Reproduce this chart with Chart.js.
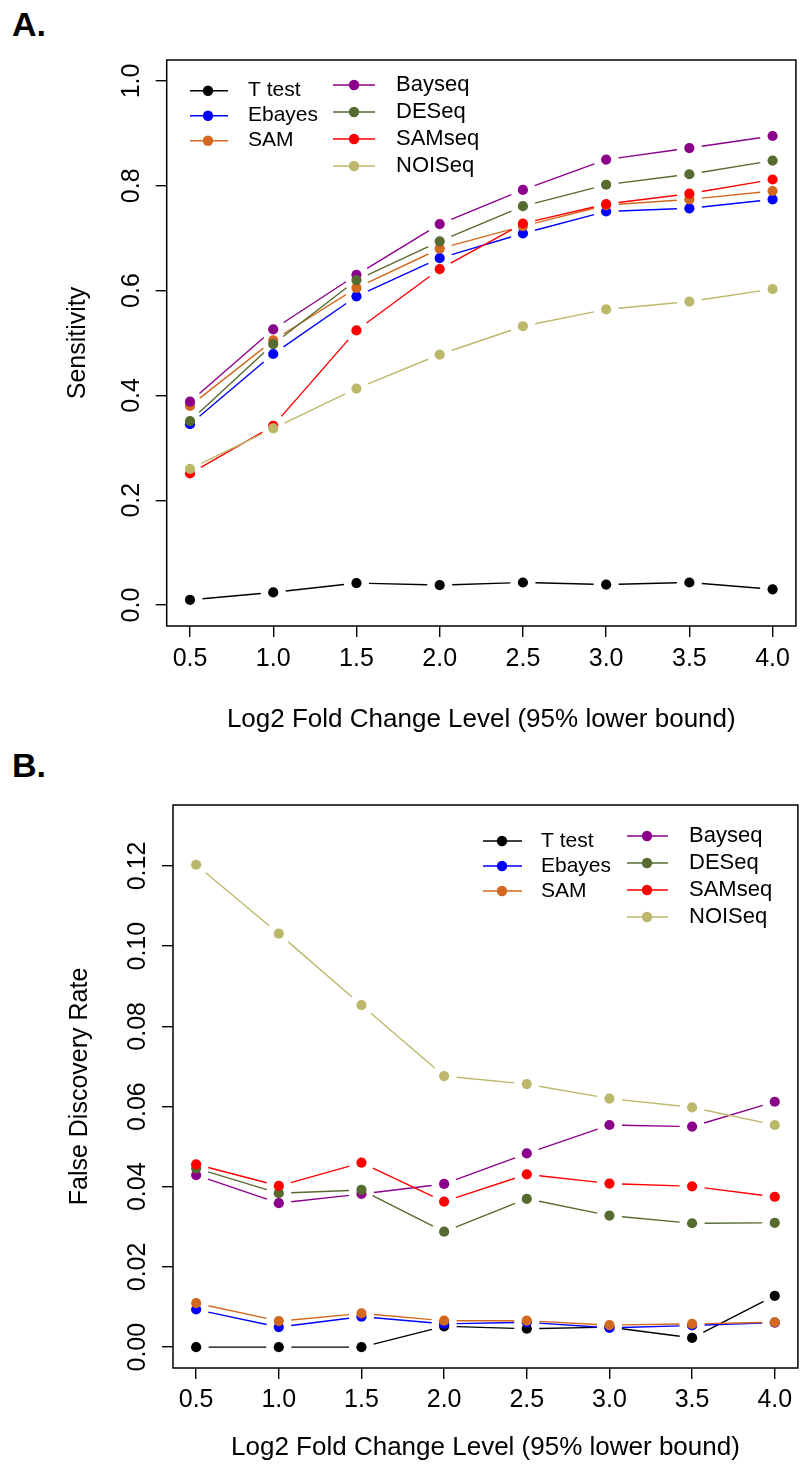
<!DOCTYPE html>
<html>
<head>
<meta charset="utf-8">
<script src="https://cdn.jsdelivr.net/npm/chart.js@4.4.0/dist/chart.umd.min.js"></script>
<style>
  html, body { margin: 0; padding: 0; background: #fff; width: 800px; height: 1465px; overflow: hidden; }
  .tag { position: absolute; left: 12px; font: bold 34px "Liberation Sans", Arial, sans-serif; line-height: 1; color: #000; }
  canvas { position: absolute; left: 0; }
</style>
</head>
<body>
<div class="tag" style="top:7px">A.</div>
<div class="tag" style="top:748px">B.</div>
<canvas id="chartA" width="801" height="740" style="top:0"></canvas>
<canvas id="chartB" width="803" height="725" style="top:740px"></canvas>

<script>
// --- data ---
const foldLevels = [0.5, 1.0, 1.5, 2.0, 2.5, 3.0, 3.5, 4.0];
const methods = ["T test", "Ebayes", "SAM", "Bayseq", "DESeq", "SAMseq", "NOISeq"];
const methodColors = ["#000000", "#0000FF", "#D2691E", "#8B008B", "#556B2F", "#FF0000", "#BDB76B"];

// panel A: sensitivity
const sensTtest  = [0.010, 0.024, 0.042, 0.038, 0.043, 0.039, 0.043, 0.030];
const sensEbayes = [0.345, 0.479, 0.589, 0.662, 0.709, 0.751, 0.757, 0.774];
const sensSAM    = [0.380, 0.505, 0.605, 0.680, 0.723, 0.763, 0.774, 0.790];
const sensBayseq = [0.388, 0.526, 0.630, 0.727, 0.792, 0.850, 0.872, 0.895];
const sensDESeq  = [0.351, 0.498, 0.620, 0.694, 0.761, 0.802, 0.822, 0.848];
const sensSAMseq = [0.251, 0.342, 0.524, 0.641, 0.728, 0.765, 0.785, 0.812];
const sensNOISeq = [0.260, 0.337, 0.413, 0.478, 0.532, 0.564, 0.579, 0.603];

// panel B: false discovery rate
const fdrTtest  = [0.0000, 0.0000, 0.0000, 0.0052, 0.0046, 0.0050, 0.0023, 0.0128];
const fdrEbayes = [0.0094, 0.0050, 0.0076, 0.0058, 0.0062, 0.0048, 0.0054, 0.0061];
const fdrSAM    = [0.0110, 0.0065, 0.0084, 0.0066, 0.0066, 0.0055, 0.0058, 0.0062];
const fdrBayseq = [0.0429, 0.0359, 0.0382, 0.0407, 0.0483, 0.0554, 0.0550, 0.0612];
const fdrDESeq  = [0.0446, 0.0384, 0.0392, 0.0288, 0.0370, 0.0328, 0.0309, 0.0310];
const fdrSAMseq = [0.0456, 0.0402, 0.0460, 0.0363, 0.0431, 0.0408, 0.0401, 0.0375];
const fdrNOISeq = [0.1203, 0.1031, 0.0853, 0.0676, 0.0656, 0.0620, 0.0598, 0.0554];

const xTickValues = [0.5, 1.0, 1.5, 2.0, 2.5, 3.0, 3.5, 4.0];
const sensTickValues = [0.0, 0.2, 0.4, 0.6, 0.8, 1.0];
const fdrTickValues = [0.00, 0.02, 0.04, 0.06, 0.08, 0.10, 0.12];

const FONT = '"Liberation Sans", Arial, sans-serif';
const GAP = 12.5;

// R style "type = b": segments stop short of each point
const gappedLines = {
  id: "gappedLines",
  beforeDatasetDraw(chart, args) {
    const ctx = chart.ctx;
    const pts = args.meta.data;
    const ds = chart.data.datasets[args.index];
    ctx.save();
    ctx.strokeStyle = ds.lineColor;
    ctx.lineWidth = 1.4;
    for (let i = 0; i < pts.length - 1; i++) {
      const a = pts[i], b = pts[i + 1];
      const dx = b.x - a.x, dy = b.y - a.y;
      const len = Math.hypot(dx, dy);
      if (len <= 2 * GAP) continue;
      const ux = dx / len, uy = dy / len;
      ctx.beginPath();
      ctx.moveTo(a.x + ux * GAP, a.y + uy * GAP);
      ctx.lineTo(b.x - ux * GAP, b.y - uy * GAP);
      ctx.stroke();
    }
    ctx.restore();
  }
};

// box, rotated y tick labels, legend
const rDecor = {
  id: "rDecor",
  afterDraw(chart, args, opts) {
    const ctx = chart.ctx;
    const area = chart.chartArea;
    ctx.save();
    ctx.strokeStyle = "#000";
    ctx.lineWidth = 1.5;
    ctx.strokeRect(area.left, area.top, area.right - area.left, area.bottom - area.top);

    const ys = chart.scales.y;
    ctx.fillStyle = "#000";
    ctx.font = "25px " + FONT;
    ctx.textAlign = "center";
    ctx.textBaseline = "middle";
    ys.ticks.forEach(t => {
      const py = ys.getPixelForValue(t.value);
      ctx.save();
      ctx.translate(area.left - 35, py);
      ctx.rotate(-Math.PI / 2);
      ctx.fillText(t.value.toFixed(opts.decimals), 0, 0);
      ctx.restore();
    });

    opts.legend.forEach(col => {
      col.items.forEach((idx, r) => {
        const y = col.rows[r];
        ctx.strokeStyle = methodColors[idx];
        ctx.lineWidth = 1.4;
        ctx.beginPath();
        ctx.moveTo(col.x0, y);
        ctx.lineTo(col.x1, y);
        ctx.stroke();
        ctx.fillStyle = methodColors[idx];
        ctx.beginPath();
        ctx.arc(col.dot, y, 5.2, 0, Math.PI * 2);
        ctx.fill();
        ctx.fillStyle = "#000";
        ctx.font = col.size + "px " + FONT;
        ctx.textAlign = "left";
        ctx.textBaseline = "middle";
        ctx.fillText(methods[idx], col.tx, y);
      });
    });
    ctx.restore();
  }
};

function makeChart(id, seriesList, cfg) {
  const datasets = seriesList.map((vals, i) => ({
    label: methods[i],
    data: foldLevels.map((x, j) => ({ x: x, y: vals[j] })),
    lineColor: methodColors[i],
    borderColor: "rgba(0,0,0,0)",
    borderWidth: 0,
    backgroundColor: methodColors[i],
    pointBackgroundColor: methodColors[i],
    pointBorderColor: methodColors[i],
    pointBorderWidth: 0,
    pointRadius: 5.1,
    showLine: false,
    order: seriesList.length - i
  }));

  return new Chart(document.getElementById(id), {
    type: "line",
    data: { datasets },
    plugins: [gappedLines, rDecor],
    options: {
      responsive: false,
      animation: false,
      showLine: false,
      layout: { padding: { top: cfg.top, left: 0, right: 0, bottom: 0 } },
      plugins: {
        legend: { display: false },
        tooltip: { enabled: false },
        rDecor: { decimals: cfg.decimals, legend: cfg.legend }
      },
      scales: {
        x: {
          type: "linear",
          min: 0.36,
          max: 4.14,
          afterBuildTicks: s => { s.ticks = xTickValues.map(v => ({ value: v })); },
          afterFit: s => { s.height = cfg.xHeight; s.paddingLeft = 0; s.paddingRight = 0; },
          grid: { drawOnChartArea: false, drawTicks: true, tickLength: 11, color: "#000", lineWidth: 1.4 },
          border: { display: false },
          ticks: {
            color: "#000",
            font: { family: FONT, size: 25 },
            padding: cfg.xTickPad,
            maxRotation: 0,
            callback: v => Number(v).toFixed(1)
          },
          title: {
            display: true,
            text: "Log2 Fold Change Level (95% lower bound)",
            color: "#000",
            font: { family: FONT, size: 26 },
            padding: { top: 0, bottom: cfg.xTitlePad }
          }
        },
        y: {
          type: "linear",
          min: cfg.yMin,
          max: cfg.yMax,
          afterBuildTicks: s => { s.ticks = cfg.yTicks.map(v => ({ value: v })); },
          afterFit: s => { s.width = cfg.yWidth; s.paddingTop = 0; s.paddingBottom = 0; },
          grid: { drawOnChartArea: false, drawTicks: true, tickLength: 11, color: "#000", lineWidth: 1.4 },
          border: { display: false },
          ticks: { display: false },
          title: {
            display: true,
            text: cfg.yTitle,
            color: "#000",
            font: { family: FONT, size: 25 },
            padding: { top: cfg.yTitlePad, bottom: 0 }
          }
        }
      }
    }
  });
}

makeChart("chartA",
  [sensTtest, sensEbayes, sensSAM, sensBayseq, sensDESeq, sensSAMseq, sensNOISeq],
  {
    top: 60, yWidth: 166.7, xHeight: 114,
    yMin: -0.04, yMax: 1.04, yTicks: sensTickValues, decimals: 1,
    yTitle: "Sensitivity", yTitlePad: 63, xTickPad: 7, xTitlePad: 4.4,
    legend: [
      { items: [0, 1, 2], rows: [90.7, 115.7, 140.7], x0: 190, x1: 228, dot: 208, tx: 248, size: 21 },
      { items: [3, 4, 5, 6], rows: [85, 112, 139, 166], x0: 333, x1: 375, dot: 354, tx: 396, size: 22 }
    ]
  });

makeChart("chartB",
  [fdrTtest, fdrEbayes, fdrSAM, fdrBayseq, fdrDESeq, fdrSAMseq, fdrNOISeq],
  {
    top: 65, yWidth: 173, xHeight: 97,
    yMin: -0.0052, yMax: 0.1352, yTicks: fdrTickValues, decimals: 2,
    yTitle: "False Discovery Rate", yTitlePad: 65, xTickPad: 6, xTitlePad: 1.4,
    legend: [
      { items: [0, 1, 2], rows: [101, 126, 151], x0: 483, x1: 522, dot: 502, tx: 541, size: 21 },
      { items: [3, 4, 5, 6], rows: [96, 123, 150, 177], x0: 627, x1: 668, dot: 647, tx: 689, size: 22 }
    ]
  });
</script>
</body>
</html>
